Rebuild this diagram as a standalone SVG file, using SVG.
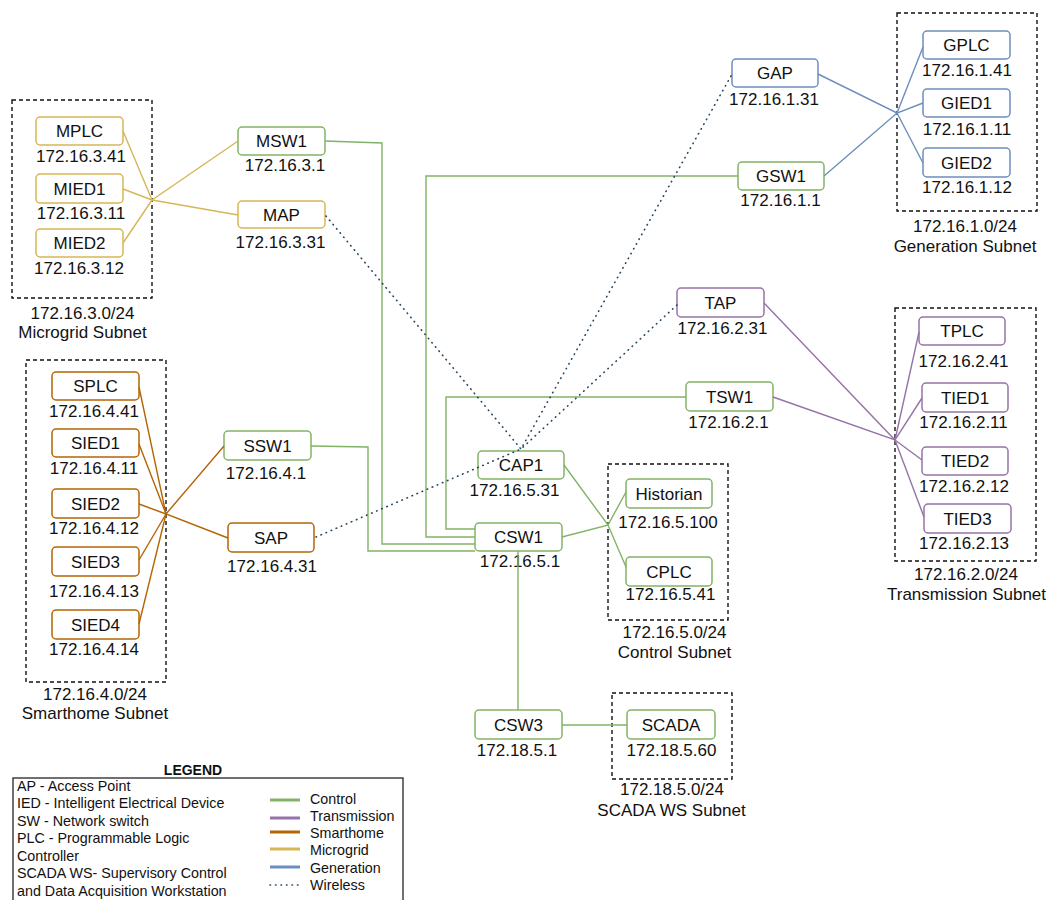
<svg xmlns="http://www.w3.org/2000/svg" width="1052" height="900" viewBox="0 0 1052 900">
<style>
text{font-family:"Liberation Sans",Arial,sans-serif;fill:#111;}
.t{font-size:17px;text-anchor:middle;}
.lg{font-size:14.3px;}
.lgb{font-size:14px;font-weight:bold;text-anchor:middle;}
rect.n{fill:#fff;stroke-width:1.5;}
.g{stroke:#82b366;}
.p{stroke:#9673a6;}
.o{stroke:#b46504;}
.y{stroke:#d6b656;}
.b{stroke:#6c8ebf;}
.sub{fill:none;stroke:#111;stroke-width:1.4;stroke-dasharray:4 3;}
#connectors polyline,#connectors line{fill:none;stroke-width:1.4;}
#connectors line.w{stroke-width:1.6;}
.w{stroke:#23445d;stroke-dasharray:0.5 5;stroke-linecap:round;}
</style>
<rect width="1052" height="900" fill="#fff"/>
<g id="subnets">
<rect class="sub" x="12" y="100" width="140" height="198"/>
<text class="t" x="82.5" y="319">172.16.3.0/24</text><text class="t" x="82.5" y="338">Microgrid Subnet</text>
<rect class="sub" x="26" y="360" width="140" height="322"/>
<text class="t" x="95" y="700">172.16.4.0/24</text><text class="t" x="95" y="719">Smarthome Subnet</text>
<rect class="sub" x="897" y="13" width="140" height="198"/>
<text class="t" x="965" y="232">172.16.1.0/24</text><text class="t" x="965" y="252">Generation Subnet</text>
<rect class="sub" x="895" y="308" width="141" height="253"/>
<text class="t" x="966" y="580">172.16.2.0/24</text><text class="t" x="966.5" y="600">Transmission Subnet</text>
<rect class="sub" x="608" y="464" width="120" height="156"/>
<text class="t" x="674.5" y="638">172.16.5.0/24</text><text class="t" x="674.5" y="658">Control Subnet</text>
<rect class="sub" x="612" y="693" width="120" height="86"/>
<text class="t" x="672" y="795">172.18.5.0/24</text><text class="t" x="671.5" y="816">SCADA WS Subnet</text>
</g>
<g id="MPLC"><rect class="n y" x="36" y="117" width="87" height="28" rx="4"/><text class="t" x="79.5" y="137">MPLC</text><text class="t" x="81" y="162">172.16.3.41</text></g>
<g id="MIED1"><rect class="n y" x="36" y="174" width="87" height="29" rx="4"/><text class="t" x="79.5" y="195">MIED1</text><text class="t" x="81" y="219">172.16.3.11</text></g>
<g id="MIED2"><rect class="n y" x="36" y="229" width="87" height="28" rx="4"/><text class="t" x="79.5" y="249">MIED2</text><text class="t" x="79" y="274">172.16.3.12</text></g>
<g id="MSW1"><rect class="n g" x="238" y="127" width="87" height="28" rx="4"/><text class="t" x="281.5" y="147">MSW1</text><text class="t" x="285" y="171">172.16.3.1</text></g>
<g id="MAP"><rect class="n y" x="238" y="201" width="87" height="27" rx="4"/><text class="t" x="281.5" y="221">MAP</text><text class="t" x="280.5" y="248">172.16.3.31</text></g>
<g id="SPLC"><rect class="n o" x="52" y="372" width="87" height="28" rx="4"/><text class="t" x="95.5" y="392">SPLC</text><text class="t" x="94" y="417">172.16.4.41</text></g>
<g id="SIED1"><rect class="n o" x="52" y="429" width="87" height="28" rx="4"/><text class="t" x="95.5" y="449">SIED1</text><text class="t" x="94" y="474">172.16.4.11</text></g>
<g id="SIED2"><rect class="n o" x="52" y="489" width="87" height="29" rx="4"/><text class="t" x="95.5" y="510">SIED2</text><text class="t" x="94" y="534">172.16.4.12</text></g>
<g id="SIED3"><rect class="n o" x="52" y="547" width="87" height="29" rx="4"/><text class="t" x="95.5" y="568">SIED3</text><text class="t" x="94" y="597">172.16.4.13</text></g>
<g id="SIED4"><rect class="n o" x="52" y="610" width="87" height="29" rx="4"/><text class="t" x="95.5" y="631">SIED4</text><text class="t" x="94" y="655">172.16.4.14</text></g>
<g id="SSW1"><rect class="n g" x="224" y="431" width="87" height="29" rx="4"/><text class="t" x="267.5" y="452">SSW1</text><text class="t" x="266" y="479">172.16.4.1</text></g>
<g id="SAP"><rect class="n o" x="228" y="523" width="86" height="29" rx="4"/><text class="t" x="271" y="544">SAP</text><text class="t" x="272" y="572">172.16.4.31</text></g>
<g id="GAP"><rect class="n b" x="732" y="59" width="86" height="28" rx="4"/><text class="t" x="775" y="79">GAP</text><text class="t" x="774" y="105">172.16.1.31</text></g>
<g id="GSW1"><rect class="n g" x="738" y="162" width="86" height="28" rx="4"/><text class="t" x="781" y="182">GSW1</text><text class="t" x="780.5" y="206">172.16.1.1</text></g>
<g id="GPLC"><rect class="n b" x="923" y="31" width="87" height="28" rx="4"/><text class="t" x="966.5" y="51">GPLC</text><text class="t" x="967" y="76">172.16.1.41</text></g>
<g id="GIED1"><rect class="n b" x="923" y="89" width="87" height="28" rx="4"/><text class="t" x="966.5" y="109">GIED1</text><text class="t" x="967" y="135">172.16.1.11</text></g>
<g id="GIED2"><rect class="n b" x="923" y="148" width="87" height="29" rx="4"/><text class="t" x="966.5" y="169">GIED2</text><text class="t" x="967" y="193">172.16.1.12</text></g>
<g id="TAP"><rect class="n p" x="677" y="288" width="87" height="29" rx="4"/><text class="t" x="720.5" y="309">TAP</text><text class="t" x="722.5" y="334">172.16.2.31</text></g>
<g id="TSW1"><rect class="n g" x="686" y="382" width="87" height="29" rx="4"/><text class="t" x="729.5" y="403">TSW1</text><text class="t" x="728.5" y="428">172.16.2.1</text></g>
<g id="TPLC"><rect class="n p" x="919" y="317" width="86" height="28" rx="4"/><text class="t" x="962" y="337">TPLC</text><text class="t" x="963.5" y="367">172.16.2.41</text></g>
<g id="TIED1"><rect class="n p" x="922" y="383" width="86" height="29" rx="4"/><text class="t" x="965" y="404">TIED1</text><text class="t" x="963.5" y="428">172.16.2.11</text></g>
<g id="TIED2"><rect class="n p" x="922" y="447" width="86" height="28" rx="4"/><text class="t" x="965" y="467">TIED2</text><text class="t" x="964" y="492">172.16.2.12</text></g>
<g id="TIED3"><rect class="n p" x="924" y="504" width="87" height="29" rx="4"/><text class="t" x="967.5" y="525">TIED3</text><text class="t" x="964" y="549">172.16.2.13</text></g>
<g id="CAP1"><rect class="n g" x="478" y="451" width="86" height="28" rx="4"/><text class="t" x="521" y="471">CAP1</text><text class="t" x="514.5" y="496">172.16.5.31</text></g>
<g id="CSW1"><rect class="n g" x="475" y="523" width="87" height="28" rx="4"/><text class="t" x="518.5" y="543">CSW1</text><text class="t" x="520" y="567">172.16.5.1</text></g>
<g id="Historian"><rect class="n g" x="626" y="479" width="86" height="29" rx="4"/><text class="t" x="669" y="500">Historian</text><text class="t" x="668" y="528">172.16.5.100</text></g>
<g id="CPLC"><rect class="n g" x="626" y="557" width="86" height="29" rx="4"/><text class="t" x="669" y="578">CPLC</text><text class="t" x="670.5" y="600">172.16.5.41</text></g>
<g id="CSW3"><rect class="n g" x="475" y="710" width="87" height="29" rx="4"/><text class="t" x="518.5" y="731">CSW3</text><text class="t" x="517" y="756">172.18.5.1</text></g>
<g id="SCADA"><rect class="n g" x="627" y="710" width="88" height="29" rx="4"/><text class="t" x="671" y="731">SCADA</text><text class="t" x="671.5" y="756">172.18.5.60</text></g>
<g id="connectors">
<polyline class="y" points="123,131 152,200 238,141"/>
<polyline class="y" points="123,189 152,200 238,215"/>
<polyline class="y" points="123,243 152,200"/>
<polyline class="o" points="139,387 166,514 224,446"/>
<polyline class="o" points="139,444 166,514 228,538"/>
<polyline class="o" points="139,504 166,514"/>
<polyline class="o" points="139,560 166,514"/>
<polyline class="o" points="139,624 166,514"/>
<polyline class="b" points="818,74 897,113 923,47"/>
<polyline class="b" points="824,176 897,113 923,103"/>
<polyline class="b" points="897,113 923,163"/>
<polyline class="p" points="764,303 895,440 919,332"/>
<polyline class="p" points="773,397 895,440 922,398"/>
<polyline class="p" points="895,440 922,460"/>
<polyline class="p" points="895,440 924,517"/>
<polyline class="g" points="564,465 608,525 626,492"/>
<polyline class="g" points="562,537 608,525 626,567"/>
<polyline class="g" points="325,141 382,143 382,544 475,544"/>
<polyline class="g" points="311,446 368,447 368,551 475,551"/>
<polyline class="g" points="738,176 426,176 426,537 475,537"/>
<polyline class="g" points="686,397 446,397 446,529 475,529"/>
<line class="g" x1="518" y1="551" x2="518" y2="710"/>
<line class="g" x1="562" y1="725" x2="627" y2="725"/>
<line class="w" x1="326" y1="216" x2="521" y2="449"/>
<line class="w" x1="731" y1="76" x2="521" y2="449"/>
<line class="w" x1="677" y1="305" x2="521" y2="449"/>
<line class="w" x1="316" y1="537" x2="521" y2="449"/>
</g>
<g id="legend">
<text class="lgb" x="193" y="775">LEGEND</text>
<rect x="13" y="778" width="390" height="130" fill="none" stroke="#111" stroke-width="1.2"/>
<text class="lg" x="17" y="791">AP - Access Point</text>
<text class="lg" x="17" y="808">IED - Intelligent Electrical Device</text>
<text class="lg" x="17" y="826">SW - Network switch</text>
<text class="lg" x="17" y="843">PLC - Programmable Logic</text>
<text class="lg" x="17" y="861">Controller</text>
<text class="lg" x="17" y="878">SCADA WS- Supervisory Control</text>
<text class="lg" x="17" y="896">and Data Acquisition Workstation</text>
<line x1="270" y1="800" x2="300" y2="800" stroke="#82b366" stroke-width="3"/>
<line x1="270" y1="818" x2="300" y2="818" stroke="#9673a6" stroke-width="3"/>
<line x1="270" y1="832" x2="300" y2="832" stroke="#b46504" stroke-width="3"/>
<line x1="270" y1="849" x2="300" y2="849" stroke="#d6b656" stroke-width="3"/>
<line x1="270" y1="867" x2="300" y2="867" stroke="#6c8ebf" stroke-width="3"/>
<line class="w" x1="270" y1="885" x2="300" y2="885" stroke-width="1.6"/>
<text class="lg" x="310" y="804">Control</text>
<text class="lg" x="310" y="821">Transmission</text>
<text class="lg" x="310" y="838">Smarthome</text>
<text class="lg" x="310" y="855">Microgrid</text>
<text class="lg" x="310" y="873">Generation</text>
<text class="lg" x="310" y="890">Wireless</text>
</g>
</svg>
